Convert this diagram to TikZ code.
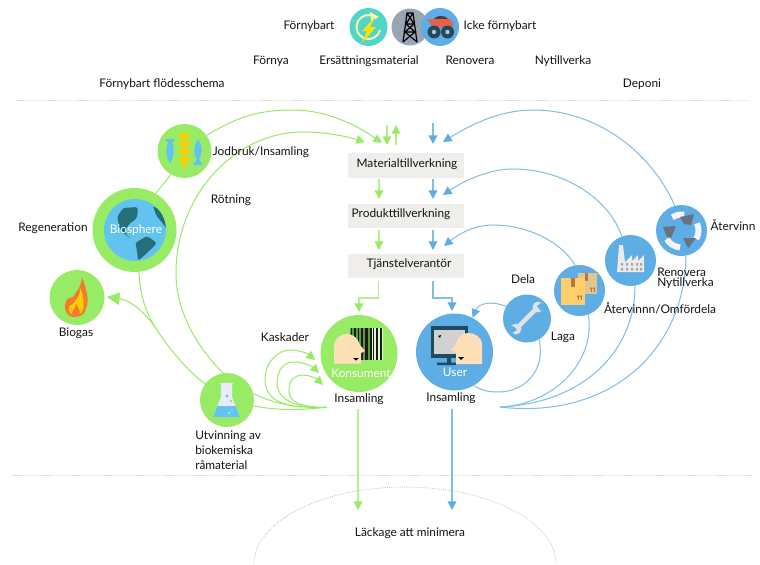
\documentclass[tikz,border=0pt]{standalone}
\usepackage{fontspec}
\setmainfont{Lato}
\usetikzlibrary{arrows.meta,backgrounds,shapes.geometric}
\definecolor{gr}{HTML}{98EC65}
\definecolor{grl}{HTML}{B4F08E}
\definecolor{bl}{HTML}{5EADE4}
\definecolor{sky}{HTML}{61C3EE}
\definecolor{blline}{HTML}{7FBDEA}
\definecolor{deep}{HTML}{23707A}
\definecolor{skin}{HTML}{FDE0B8}
\definecolor{teal}{HTML}{50D5C8}
\definecolor{boxc}{HTML}{F0EEEB}
\definecolor{navy}{HTML}{1F4B5F}
\definecolor{slate}{HTML}{9AA5B4}
\definecolor{iconcream}{HTML}{FCF0B0}
\definecolor{wheat}{HTML}{FFCC00}
\definecolor{flamec}{HTML}{F47A30}
\definecolor{truckred}{HTML}{E8604C}
\definecolor{parcelA}{HTML}{FFCF6B}
\definecolor{parcelB}{HTML}{E3C58F}
\definecolor{tape}{HTML}{B5793F}
\definecolor{toolc}{HTML}{DDE3E8}
\definecolor{arrowgray}{HTML}{6A737D}
\definecolor{barg}{HTML}{5C9A3C}
\tikzset{
 x=0.75pt,y=-0.75pt,
 disc/.style={circle,inner sep=0pt,minimum size={#1*0.75pt}},
 lab/.style={font=\fontsize{8.9pt}{10.4pt}\selectfont,text=black!92,inner sep=0pt},
 wlab/.style={font=\fontsize{8.9pt}{10.4pt}\selectfont,text=white,inner sep=0pt},
 stage/.style={fill=boxc,minimum width=87pt,minimum height=18.4pt,inner sep=0pt},
 gline/.style={draw=gr,line width=.75pt},
 bline/.style={draw=blline,line width=.75pt},
 gtip/.style={-{Triangle[length=6.5pt,width=6.5pt,color=gr]}},
 btip/.style={-{Triangle[length=6.5pt,width=6.5pt,color=bl]}},
 sep/.style={draw=black!6,line width=.75pt},
 sepd/.style={draw=black!14,line width=.75pt,dash pattern=on 6pt off 17pt},
}
\begin{document}
\begin{tikzpicture}
\useasboundingbox (0,0) rectangle (760,564);

% ---------- discs
\node[disc=38,fill=teal] (renew) at (368.5,27) {};
\node[disc=37,fill=slate] (oil) at (410,27) {};
\node[disc=38,fill=bl] (truck) at (440,27) {};
\node[disc=54,fill=gr] (farm) at (184.5,151) {};
\node[disc=84,fill=gr] (bio) at (134.5,230) {};
\node[disc=55,fill=gr] (gas) at (77,297.5) {};
\node[disc=77,fill=gr] (kons) at (359,353.5) {};
\node[disc=77,fill=bl] (user) at (454.5,352) {};
\node[disc=54,fill=gr] (flask) at (227,400) {};
\node[disc=48,fill=bl] (tool) at (527,318.5) {};
\node[disc=51,fill=bl] (parcel) at (579.5,290.5) {};
\node[disc=51,fill=bl] (plant) at (630.5,260.5) {};
\node[disc=51,fill=bl] (cycle) at (681.5,230.5) {};

% ---------- stages
\node[stage] (mat) at (406,165.5) {};
\node[stage] (prod) at (406,216) {};
\node[stage] (serv) at (406,266) {};
\node[lab] at (407,164) {Materialtillverkning};
\node[lab] at (401,214) {Produkttillverkning};
\node[lab] at (409,264) {Tjänstelverantör};

% ---------- free ends
\coordinate (gjoin) at (157,330);
\coordinate (kin) at (327,407);
\coordinate (uin) at (500,407);
\coordinate (t1) at (382,143);
\coordinate (t2) at (365,142);
\coordinate (b1) at (443,142);
\coordinate (b2) at (443,195);
\coordinate (b3) at (444,246);
\coordinate (gastip) at (107,297);
\coordinate (k1) at (315,360);
\coordinate (k2) at (319,373);
\coordinate (k3) at (323,385);
\coordinate (gdown) at (358,510);
\coordinate (bdown) at (452,510);
\coordinate (gin) at (358,409);
\coordinate (bin) at (452,409);
\coordinate (gt1) at (387,125);\coordinate (gt2) at (387,145);
\coordinate (gu1) at (396,145);\coordinate (gu2) at (396,125);
\coordinate (bt1) at (433,123);\coordinate (bt2) at (433,144);
\coordinate (m1) at (379,179);\coordinate (m2) at (379,199);
\coordinate (m3) at (379,230);\coordinate (m4) at (379,250);
\coordinate (n1) at (433,179);\coordinate (n2) at (433,199);
\coordinate (n3) at (433,230);\coordinate (n4) at (433,250);
\coordinate (e1) at (378.5,281);\coordinate (e2) at (359,312);
\coordinate (f1) at (433,281);\coordinate (f2) at (452,311);

\begin{scope}[on background layer]
\fill[white] (0,0) rectangle (760,564);
% separators
\draw[sep] (17,100) -- (750,100);
\draw[sepd] (17,100) -- (750,100);
\draw[sep] (12,475) -- (752,475);
\draw[sepd] (12,475) -- (752,475);
\draw[black!45,line width=.4pt,densely dotted] (254,564) arc[start angle=180,end angle=360,x radius=151,y radius=77];
% green curves
\draw[gline] (bio.60) -- (farm.240);
\draw[gline,gtip] (farm.35) .. controls (240,115) and (262,110) .. (293,110) .. controls (325,110) and (355,124) .. (t1);
\draw[gline,gtip] (kin) .. controls (285,410) and (250,397) .. (223,373) .. controls (195,345) and (176,310) .. (176,273) .. controls (176,195) and (235,132) .. (303,132) .. controls (325,132) and (345,136) .. (t2);
\draw[gline] (bio.276) .. controls (140,295) and (146,314) .. (gjoin) .. controls (170,350) and (185,367) .. (200,380) .. controls (220,395) and (240,403) .. (254,406) .. controls (280,411) and (305,410) .. (kin);
\draw[gline,-{Triangle[length=9.5pt,width=9.5pt,color=gr]}] (gjoin) .. controls (145,312) and (130,300) .. (gastip);
% cascades
\draw[gline,gtip] (302,407) .. controls (280,405) and (265,398) .. (265,380) .. controls (265,362) and (278,350) .. (290,350) .. controls (300,350) and (308,354) .. (k1);
\draw[gline,gtip] (310,407) .. controls (292,405) and (277,398) .. (277,383) .. controls (277,370) and (284,362) .. (293,362) .. controls (303,362) and (312,366) .. (k2);
\draw[gline,gtip] (318,407) .. controls (300,406) and (289,402) .. (289,390) .. controls (289,380) and (295,375) .. (303,375) .. controls (310,375) and (317,379) .. (k3);
% blue curves
\draw[bline,btip] (cycle.105) .. controls (650,150) and (595,110) .. (533,110) .. controls (500,110) and (470,125) .. (b1);
\draw[bline,btip] (plant.110) .. controls (610,200) and (565,169) .. (513,169) .. controls (490,169) and (465,180) .. (b2);
\draw[bline,btip] (parcel.100) .. controls (560,240) and (525,225) .. (493,225) .. controls (475,225) and (460,233) .. (b3);
\draw[bline,btip] (tool.150) .. controls (490,300) and (478,304) .. (user.62);
\draw[bline] (tool.-60) .. controls (546,370) and (525,392) .. (498,392) .. controls (488,392) and (480,390) .. (user.-60);
\draw[bline] (parcel.-70) .. controls (596,365) and (550,405) .. (uin);
\draw[bline] (plant.-80) .. controls (635,350) and (585,403) .. (uin);
\draw[bline] (cycle.-80) .. controls (685,350) and (610,420) .. (uin);
\end{scope}

% vertical arrows
\draw[draw=grl,line width=1pt,gtip] (gt1) -- (gt2);
\draw[draw=grl,line width=1pt,gtip] (gu1) -- (gu2);
\draw[draw=blline,line width=1pt,btip] (bt1) -- (bt2);
\draw[draw=grl,line width=1pt,gtip] (m1) -- (m2);
\draw[draw=grl,line width=1pt,gtip] (m3) -- (m4);
\draw[draw=blline,line width=1pt,btip] (n1) -- (n2);
\draw[draw=blline,line width=1pt,btip] (n3) -- (n4);
\draw[draw=grl,line width=1pt,gtip] (e1) -- (378.5,298) -- (359,298) -- (e2);
\draw[draw=blline,line width=1pt,btip] (f1) -- (433,298) -- (452,298) -- (f2);
\draw[draw=grl,line width=1pt,gtip] (gin) -- (gdown);
\draw[draw=blline,line width=1pt,btip] (bin) -- (bdown);

% ---------- icons: renewable
\draw[draw=iconcream,line width=1.5pt] (renew.center) ++(-60:12) arc[start angle=-60,end angle=-345,radius=12];
\fill[iconcream] (370,12) -- (379,17) -- (371,21) -- cycle;
\fill[yellow!85!orange] (375,17) -- (362,31) -- (367,31) -- (362,43) -- (376,27) -- (370,27) -- cycle;
% derrick
\draw[black,line width=.9pt] (403,42) -- (407,13) -- (413,13) -- (417,42) (405,32) -- (415,32) (406,24) -- (414,24) (403,42) -- (415,32) -- (405,32) -- (417,42) (405,32) -- (414,24) (415,32) -- (406,24) (406,24) -- (413,13) (414,24) -- (407,13);
% truck
\fill[black!75] (434,20) arc[start angle=180,end angle=360,x radius=7,y radius=4];
\fill[truckred] (427,19) -- (451,19) -- (451,28) -- (433,27) -- cycle;
\fill[truckred] (448,22) -- (453,22) -- (453,30) -- (448,30) -- cycle;
\fill[navy] (434,32) circle[radius=6.5] (447.5,32) circle[radius=6.5];
\fill[black!25] (434,32) circle[radius=2.2] (447.5,32) circle[radius=2.2];

% wheat and fish
\draw[wheat,line width=1.6pt] (184.5,133) -- (184.5,169);
\foreach \yy in {136,144,152,160}{
 \draw[wheat,line width=2pt] (179,\yy-3) -- (184.5,\yy+3) -- (190,\yy-3);
}
\fill[sky] (170,139) .. controls (175,145) and (175,155) .. (170,163) .. controls (165,156) and (165,147) .. (170,139) -- cycle;
\fill[sky] (165,139) -- (175,139) -- (170,145) -- cycle;
\fill[sky] (198,139) .. controls (203,147) and (203,155) .. (198,161) .. controls (193,155) and (193,147) .. (198,139) -- cycle;
\fill[sky] (193,165) -- (203,165) -- (198,158) -- cycle;

% globe
\begin{scope}
\clip (135,230) circle[radius=31];
\fill[sky] (135,230) circle[radius=31];
\fill[deep,rounded corners=2pt] (117,217) -- (123,208) -- (138,207) -- (137,218) -- (128,225) -- (125,233) -- (131,239) -- (120,230) -- cycle;
\fill[deep,rounded corners=2pt] (135,243) -- (147,236) -- (157,243) -- (147,253) -- (138,261) -- (137,250) -- cycle;
\fill[deep,rounded corners=1pt] (153,206) -- (163,212) -- (168,230) -- (160,220) -- (156,215) -- cycle;
\end{scope}
\node[wlab] at (136,230) {Biosphere};

% flame
\fill[flamec] (82,277) .. controls (86,288) and (90,300) .. (86,308) .. controls (85,317) and (76,317) .. (74,317) .. controls (67,317) and (63,310) .. (66,301) .. controls (69,296) and (71,299) .. (73,297) .. controls (76,292) and (81,288) .. (82,277) -- cycle;
\fill[wheat] (80,288) .. controls (84,296) and (85,306) .. (82,312) .. controls (79,316) and (71,316) .. (69,311) .. controls (68,306) and (71,304) .. (73,304) .. controls (76,300) and (80,296) .. (80,288) -- cycle;
\fill[flamec] (76,304) .. controls (79,308) and (81,312) .. (79,315) .. controls (76,317) and (72,316) .. (72,313) .. controls (72,310) and (75,309) .. (76,304) -- cycle;

% flask
\fill[blue!8!white] (220,383) -- (233,383) -- (232,385) -- (232,397) -- (240,417) -- (213,417) -- (221,397) -- (221,385) -- cycle;
\fill[sky] (217.5,406) -- (235.5,406) -- (240,417) -- (213,417) -- cycle;
\fill[sky] (227,396) circle[radius=1.6] (231,401) circle[radius=1.1];
\fill[white] (229,413) circle[radius=.9] (232,410) circle[radius=.7];

% barcode and person
\fill[barg] (350,328) rectangle (371,360);
\fill[white!70!gr] (371,328) rectangle (383,360);
\foreach \xa/\wb in {351/1,354/2,358/1,361/1.5,365/3,370/1.5,373/1,376/2,380/1.5}{
 \fill[black!90] (\xa,328) rectangle ++(\wb,32);
}
\fill[skin] (334,363.5) -- (334,347) .. controls (334,338) and (341,334) .. (347,334) .. controls (354,334) and (358,339) .. (360,345) -- (365,351) -- (361,353) -- (361,363.5) -- cycle;
\fill[black] (353,358) -- (359,358) -- (356,360.5) -- cycle;
\node[wlab] at (361,373) {Konsument};

% monitor and person
\fill[navy] (431,326) rectangle (468,358);
\fill[black!18] (434,330) rectangle (465,354);
\fill[navy] (447,358) rectangle (451,364) (437,362.5) rectangle (456,365);
\fill[black] (438,336) -- (441,335) -- (440,338) -- cycle;
\fill[skin] (482,364) -- (482,345) .. controls (482,337) and (475,333) .. (468,333) .. controls (461,333) and (457,338) .. (456,344) -- (451,350) -- (456,352) -- (456,364) -- cycle;
\fill[black] (458,357) -- (464,357) -- (461,360) -- cycle;
\node[wlab] at (455,372) {User};

% wrench
\draw[toolc,line width=3.4pt] (516,329) -- (537,308);
\fill[toolc] (516,329) circle[radius=5.5] (538,307) circle[radius=5.5];
\fill[bl] (512,333) -- (517,330) -- (513,326) -- (508,329) -- cycle;
\fill[bl] (541,303) -- (537,306) -- (541,311) -- (546,307) -- cycle;

% parcels
\fill[parcelB] (578,273) rectangle (597,294);
\fill[tape] (585,273) rectangle (588,281);
\fill[parcelA] (561,278) rectangle (585,305);
\fill[tape] (571,278) rectangle (575,287);
\draw[tape,line width=.7pt,-{Triangle[length=1.5pt,width=2pt]}] (578,300) -- (578,295);
\draw[tape,line width=.7pt,-{Triangle[length=1.5pt,width=2pt]}] (581,300) -- (581,295);
\draw[tape,line width=.7pt,-{Triangle[length=1.5pt,width=2pt]}] (591,292) -- (591,287);
\draw[tape,line width=.7pt,-{Triangle[length=1.5pt,width=2pt]}] (594,292) -- (594,287);

% factory
\fill[black!8] (617,272) -- (619,245) -- (623,245) -- (625,262) -- (632,255) -- (632,261) -- (638,255) -- (638,261) -- (644,255) -- (644,272) -- cycle;
\foreach \xa in {621,626,631,636,640}{
 \fill[black!35] (\xa,263) rectangle ++(2,2.5) (\xa,268) rectangle ++(2,2.5);
}

% recycle
\draw[white!92!gray,line width=4.5pt] (cycle.center) ++(-125:16) arc[start angle=-125,end angle=-80,radius=16];
\draw[white!92!gray,line width=4.5pt] (cycle.center) ++(-25:17) arc[start angle=-25,end angle=30,radius=17];
\draw[white!92!gray,line width=4.5pt] (cycle.center) ++(95:17) arc[start angle=95,end angle=150,radius=17];
\fill[arrowgray] (680,217) -- (694,214) -- (691,225) -- (684,224) -- cycle;
\fill[arrowgray] (663,227) -- (676,226) -- (671,238) -- (667,237) -- cycle;
\fill[arrowgray] (683,238) -- (696,238) -- (690,246) -- (688,248) -- cycle;

% ---------- labels
\node[lab] (t_fornybart) at (309,26) {Förnybart};
\node[lab] (t_icke) at (500,26) {Icke förnybart};
\node[lab] (t_fornya) at (271,61) {Förnya};
\node[lab] (t_ers) at (369,61) {Ersättningsmaterial};
\node[lab] (t_ren) at (470,60) {Renovera};
\node[lab] (t_nyt) at (563,61) {Nytillverka};
\node[lab] (t_flow) at (162,84) {Förnybart flödesschema};
\node[lab] (t_dep) at (642,84) {Deponi};
\node[lab] (t_jod) at (261,152) {Jodbruk/Insamling};
\node[lab] (t_rot) at (231,200) {Rötning};
\node[lab] (t_reg) at (53,228) {Regeneration};
\node[lab] (t_gas) at (76,333) {Biogas};
\node[lab] (t_kas) at (285,337) {Kaskader};
\node[lab] (t_ins1) at (359,399) {Insamling};
\node[lab] (t_ins2) at (451,398) {Insamling};
\node[lab,align=left,anchor=north west,font=\fontsize{8.9pt}{11pt}\selectfont] (t_utv) at (195,431) {Utvinning av\\biokemiska\\råmaterial};
\node[lab] (t_dela) at (523,279) {Dela};
\node[lab] (t_laga) at (563,337) {Laga};
\node[lab] (t_ater) at (660,308) {Återvinnn/Omfördela};
\node[lab,align=left,anchor=north west,font=\fontsize{8.9pt}{7.6pt}\selectfont] (t_rn) at (657,268) {Renovera\\Nytillverka};
\node[lab] (t_atv) at (733,225) {Återvinn};
\node[lab] (t_leak) at (410,533) {Läckage att minimera};
\end{tikzpicture}
\end{document}
